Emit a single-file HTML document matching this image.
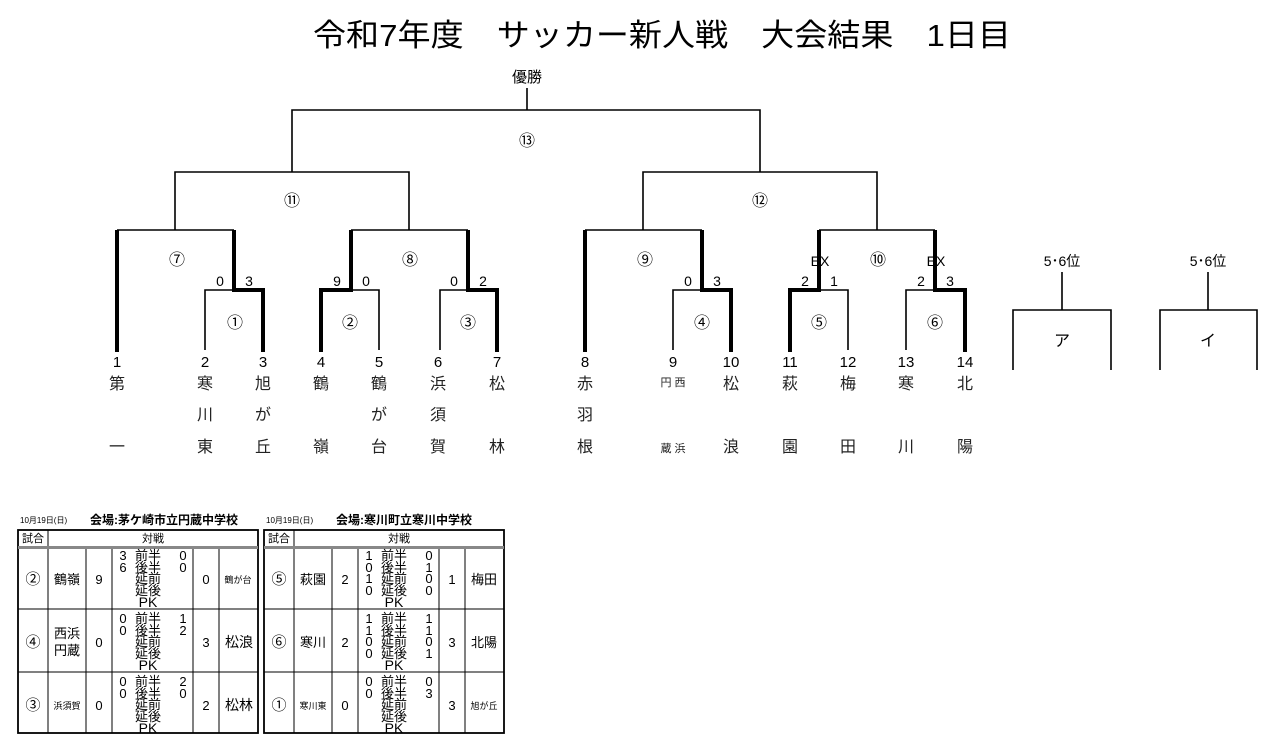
<!DOCTYPE html>
<html><head><meta charset="utf-8"><style>
html,body{margin:0;padding:0;background:#fff;}
svg{display:block;font-family:"Liberation Sans","Noto Sans CJK JP",sans-serif;}
</style></head><body>
<svg width="1280" height="751" viewBox="0 0 1280 751" xmlns="http://www.w3.org/2000/svg">
<text x="662" y="46" font-size="31" text-anchor="middle" textLength="698" lengthAdjust="spacingAndGlyphs">令和7年度　サッカー新人戦　大会結果　1日目</text>
<text x="527" y="82" font-size="15" text-anchor="middle">優勝</text>
<g stroke="#000" fill="none" stroke-width="1.6">
<path d="M527 88V110M292 172V110H760V172M175 230V172H409V230M643 230V172H877V230"/>
<path d="M117 230H234M351 230H468M585 230H702M819 230H935"/>
<path d="M205 350V290H234M379 350V290H350M440 350V290H468M673 350V290H702M848 350V290H819M906 350V290H935"/>
<path d="M1062 272V310M1013 370V310H1111V370M1208 272V310M1160 370V310H1257V370"/>
</g>
<g stroke="#000" fill="none" stroke-width="4" stroke-linecap="square">
<path d="M117 232V350M234 232V290H263V350M351 232V290H321V350M468 232V290H497V350"/>
<path d="M585 232V350M702 232V290H731V350M819 232V290H790V350M935 232V290H965V350"/>
</g>
<g font-size="16" text-anchor="middle">
<text x="527" y="146">⑬</text><text x="292" y="206">⑪</text><text x="760" y="206">⑫</text>
<text x="177" y="265">⑦</text><text x="410" y="265">⑧</text><text x="645" y="265">⑨</text><text x="878" y="265">⑩</text>
<text x="235" y="328">①</text><text x="350" y="328">②</text><text x="468" y="328">③</text><text x="702" y="328">④</text><text x="819" y="328">⑤</text><text x="935" y="328">⑥</text>
</g>
<g font-size="14" text-anchor="middle">
<text x="820" y="266">EX</text><text x="936" y="266">EX</text>
<text x="220" y="286">0</text><text x="249" y="286">3</text>
<text x="337" y="286">9</text><text x="366" y="286">0</text>
<text x="454" y="286">0</text><text x="483" y="286">2</text>
<text x="688" y="286">0</text><text x="717" y="286">3</text>
<text x="805" y="286">2</text><text x="834" y="286">1</text>
<text x="921" y="286">2</text><text x="950" y="286">3</text>
<text x="1062" y="266">5･6位</text><text x="1208" y="266">5･6位</text>
<text x="1062" y="346" font-size="16">ア</text><text x="1208" y="346" font-size="16">イ</text>
</g>
<g font-size="15" text-anchor="middle">
<text x="117" y="367">1</text><text x="205" y="367">2</text><text x="263" y="367">3</text><text x="321" y="367">4</text><text x="379" y="367">5</text><text x="438" y="367">6</text><text x="497" y="367">7</text>
<text x="585" y="367">8</text><text x="673" y="367">9</text><text x="731" y="367">10</text><text x="790" y="367">11</text><text x="848" y="367">12</text><text x="906" y="367">13</text><text x="965" y="367">14</text>
</g>
<g font-size="16" text-anchor="middle" fill="#222">
<text x="117" y="389">第</text><text x="117" y="452">一</text>
<text x="205" y="389">寒</text><text x="205" y="420">川</text><text x="205" y="452">東</text>
<text x="263" y="389">旭</text><text x="263" y="420">が</text><text x="263" y="452">丘</text>
<text x="321" y="389">鶴</text><text x="321" y="452">嶺</text>
<text x="379" y="389">鶴</text><text x="379" y="420">が</text><text x="379" y="452">台</text>
<text x="438" y="389">浜</text><text x="438" y="420">須</text><text x="438" y="452">賀</text>
<text x="497" y="389">松</text><text x="497" y="452">林</text>
<text x="585" y="389">赤</text><text x="585" y="420">羽</text><text x="585" y="452">根</text>
<text x="673" y="386" font-size="11">円 西</text><text x="673" y="452" font-size="11">蔵 浜</text>
<text x="731" y="389">松</text><text x="731" y="452">浪</text>
<text x="790" y="389">萩</text><text x="790" y="452">園</text>
<text x="848" y="389">梅</text><text x="848" y="452">田</text>
<text x="906" y="389">寒</text><text x="906" y="452">川</text>
<text x="965" y="389">北</text><text x="965" y="452">陽</text>
</g>
<!-- tables -->
<text x="20" y="523" font-size="8">10月19日(日)</text>
<text x="90" y="524" font-size="12" font-weight="bold">会場:茅ケ崎市立円蔵中学校</text>
<text x="266" y="523" font-size="8">10月19日(日)</text>
<text x="336" y="524" font-size="12" font-weight="bold">会場:寒川町立寒川中学校</text>
<g id="t1">
<rect x="18" y="530" width="240" height="203" fill="none" stroke="#000" stroke-width="1.8"/>
<g stroke="#000" stroke-width="1" fill="none">
<path d="M48 530V733M86 549V733M112 549V733M193 549V733M219 549V733M18 609H258M18 672H258"/>
<path d="M18 547.5H258" stroke="#888" stroke-width="3"/>
</g>
<text x="33" y="542" font-size="11" text-anchor="middle">試合</text>
<text x="153" y="542" font-size="11" text-anchor="middle">対戦</text>
</g>
<use href="#t1" x="246"/>
<g font-size="13" text-anchor="middle">
<g id="lb"><text x="148" y="560">前半</text><text x="148" y="572">後半</text><text x="148" y="583">延前</text><text x="148" y="595">延後</text><text x="148" y="607" font-size="14">PK</text></g>
<use href="#lb" y="63"/><use href="#lb" y="126"/>
<use href="#lb" x="246"/><use href="#lb" x="246" y="63"/><use href="#lb" x="246" y="126"/>
</g>
<g font-size="13" text-anchor="middle">
<text x="33" y="584" font-size="15">②</text><text x="67" y="584">鶴嶺</text><text x="99" y="584">9</text>
<text x="123" y="560">3</text><text x="123" y="572">6</text><text x="183" y="560">0</text><text x="183" y="572">0</text>
<text x="206" y="584">0</text><text x="238" y="583" font-size="9">鶴が台</text>
<text x="33" y="647" font-size="15">④</text><text x="67" y="638">西浜</text><text x="67" y="655">円蔵</text><text x="99" y="647">0</text>
<text x="123" y="623">0</text><text x="123" y="635">0</text><text x="183" y="623">1</text><text x="183" y="635">2</text>
<text x="206" y="647">3</text><text x="239" y="647" font-size="14">松浪</text>
<text x="33" y="710" font-size="15">③</text><text x="67" y="709" font-size="9">浜須賀</text><text x="99" y="710">0</text>
<text x="123" y="686">0</text><text x="123" y="698">0</text><text x="183" y="686">2</text><text x="183" y="698">0</text>
<text x="206" y="710">2</text><text x="239" y="710" font-size="14">松林</text>
<text x="279" y="584" font-size="15">⑤</text><text x="313" y="584">萩園</text><text x="345" y="584">2</text>
<text x="369" y="560">1</text><text x="369" y="572">0</text><text x="369" y="583">1</text><text x="369" y="595">0</text>
<text x="429" y="560">0</text><text x="429" y="572">1</text><text x="429" y="583">0</text><text x="429" y="595">0</text>
<text x="452" y="584">1</text><text x="484" y="584">梅田</text>
<text x="279" y="647" font-size="15">⑥</text><text x="313" y="647">寒川</text><text x="345" y="647">2</text>
<text x="369" y="623">1</text><text x="369" y="635">1</text><text x="369" y="646">0</text><text x="369" y="658">0</text>
<text x="429" y="623">1</text><text x="429" y="635">1</text><text x="429" y="646">0</text><text x="429" y="658">1</text>
<text x="452" y="647">3</text><text x="484" y="647">北陽</text>
<text x="279" y="710" font-size="15">①</text><text x="313" y="709" font-size="9">寒川東</text><text x="345" y="710">0</text>
<text x="369" y="686">0</text><text x="369" y="698">0</text><text x="429" y="686">0</text><text x="429" y="698">3</text>
<text x="452" y="710">3</text><text x="484" y="709" font-size="9">旭が丘</text>
</g>
</svg>
</body></html>
